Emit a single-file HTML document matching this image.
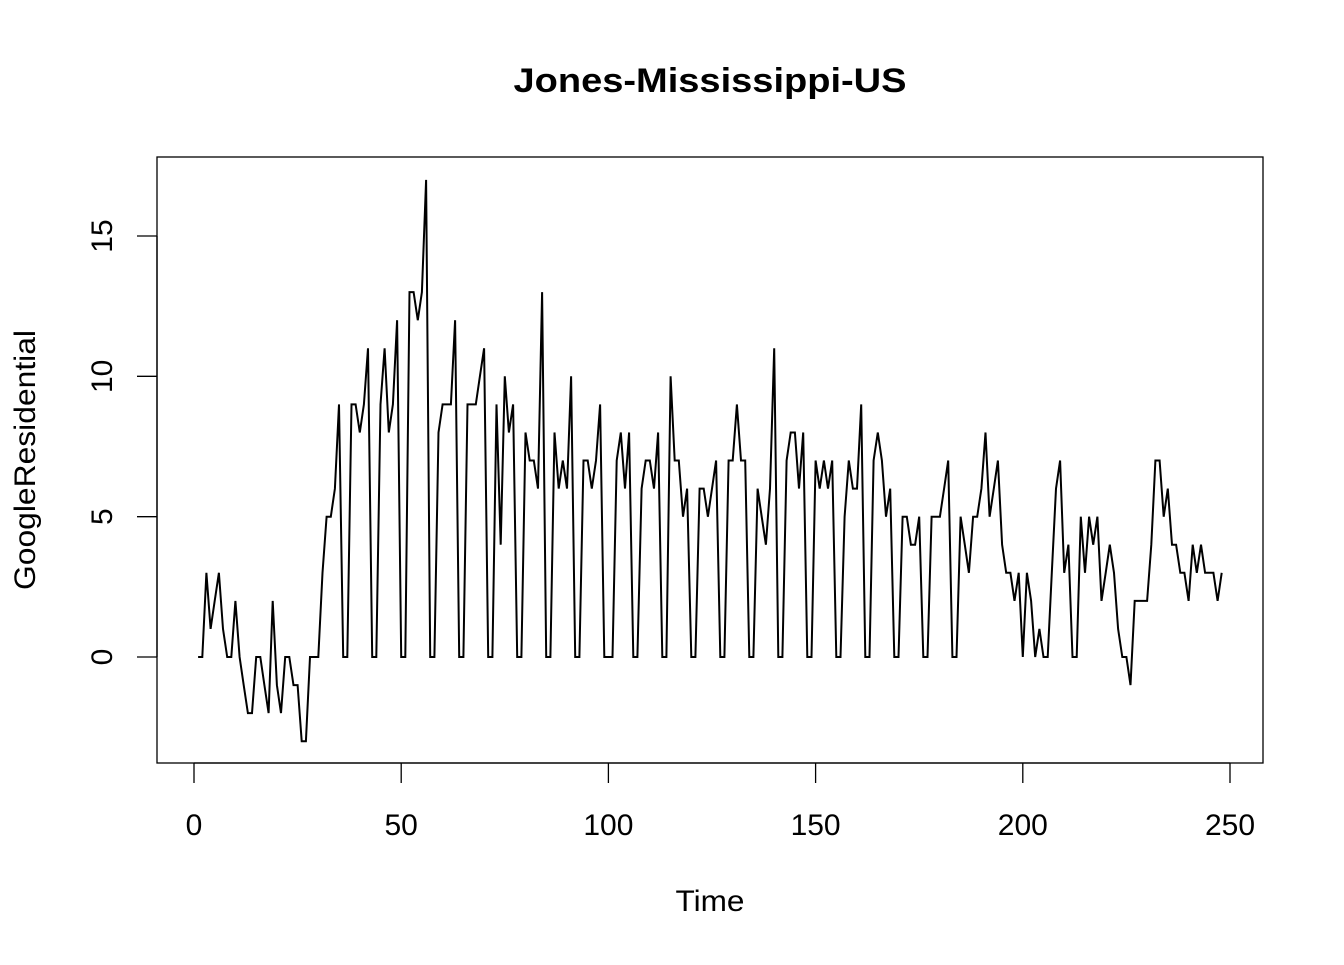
<!DOCTYPE html>
<html><head><meta charset="utf-8"><style>
body{margin:0;background:#fff}
svg text{font-family:"Liberation Sans",Arial,sans-serif;fill:#000}
</style></head><body>
<svg id="chart" width="1344" height="960">
<text x="710" y="92" font-size="34" font-weight="bold" text-anchor="middle" textLength="393" lengthAdjust="spacingAndGlyphs">Jones-Mississippi-US</text>
<rect x="157" y="157" width="1106" height="606" fill="none" stroke="#000" stroke-width="1.3"/>
<g id="xaxis"></g>
<g id="yaxis"></g>
<text x="710" y="911" font-size="30" text-anchor="middle" textLength="69" lengthAdjust="spacingAndGlyphs">Time</text>
<text transform="translate(35,460) rotate(-90)" font-size="30" text-anchor="middle" textLength="260" lengthAdjust="spacingAndGlyphs">GoogleResidential</text>
<path id="line" fill="none" stroke="#000" stroke-width="2"/>
</svg>
<script>
const values=[0,0,3,1,2,3,1,0,0,2,0,-1,-2,-2,0,0,-1,-2,2,-1,-2,0,0,-1,-1,-3,-3,0,0,0,3,5,5,6,9,0,0,9,9,8,9,11,0,0,9,11,8,9,12,0,0,13,13,12,13,17,0,0,8,9,9,9,12,0,0,9,9,9,10,11,0,0,9,4,10,8,9,0,0,8,7,7,6,13,0,0,8,6,7,6,10,0,0,7,7,6,7,9,0,0,0,7,8,6,8,0,0,6,7,7,6,8,0,0,10,7,7,5,6,0,0,6,6,5,6,7,0,0,7,7,9,7,7,0,0,6,5,4,6,11,0,0,7,8,8,6,8,0,0,7,6,7,6,7,0,0,5,7,6,6,9,0,0,7,8,7,5,6,0,0,5,5,4,4,5,0,0,5,5,5,6,7,0,0,5,4,3,5,5,6,8,5,6,7,4,3,3,2,3,0,3,2,0,1,0,0,3,6,7,3,4,0,0,5,3,5,4,5,2,3,4,3,1,0,0,-1,2,2,2,2,4,7,7,5,6,4,4,3,3,2,4,3,4,3,3,3,2,3];
const xTicks=[0,50,100,150,200,250];
const yTicks=[0,5,10,15];
const NS="http://www.w3.org/2000/svg";
const X=t=>194+t*(1230-194)/250;
const Y=v=>657-v*(657-236)/15;
let d="";
values.forEach((v,i)=>{d+=(i?"L":"M")+X(i+1).toFixed(1)+","+Y(v).toFixed(1);});
document.getElementById('line').setAttribute('d',d);
const xa=document.getElementById('xaxis');
let l=document.createElementNS(NS,'line');
l.setAttribute('x1',X(0));l.setAttribute('x2',X(250));l.setAttribute('y1',763);l.setAttribute('y2',763);l.setAttribute('stroke','#000');l.setAttribute('stroke-width','1.3');


xa.appendChild(l);
xTicks.forEach(t=>{
 const tk=document.createElementNS(NS,'line');
 tk.setAttribute('x1',X(t));tk.setAttribute('x2',X(t));tk.setAttribute('y1',763);tk.setAttribute('y2',783);tk.setAttribute('stroke','#000');tk.setAttribute('stroke-width','1.3');
 
 
 xa.appendChild(tk);
 const tx=document.createElementNS(NS,'text');
 tx.setAttribute('x',X(t));tx.setAttribute('y',835);tx.setAttribute('font-size','30');tx.setAttribute('text-anchor','middle');tx.textContent=t;
 
 
 xa.appendChild(tx);
});
const ya=document.getElementById('yaxis');
let l2=document.createElementNS(NS,'line');
l2.setAttribute('x1',157);l2.setAttribute('x2',157);l2.setAttribute('y1',Y(0));l2.setAttribute('y2',Y(15));l2.setAttribute('stroke','#000');l2.setAttribute('stroke-width','1.3');


ya.appendChild(l2);
yTicks.forEach(v=>{
 const tk=document.createElementNS(NS,'line');
 tk.setAttribute('x1',137);tk.setAttribute('x2',157);tk.setAttribute('y1',Y(v));tk.setAttribute('y2',Y(v));tk.setAttribute('stroke','#000');tk.setAttribute('stroke-width','1.3');
 
 
 ya.appendChild(tk);
 const tx=document.createElementNS(NS,'text');
 tx.setAttribute('transform','translate(112,'+Y(v)+') rotate(-90)');tx.setAttribute('font-size','30');tx.setAttribute('text-anchor','middle');tx.textContent=v;
 
 
 ya.appendChild(tx);
});
</script>
</body></html>
